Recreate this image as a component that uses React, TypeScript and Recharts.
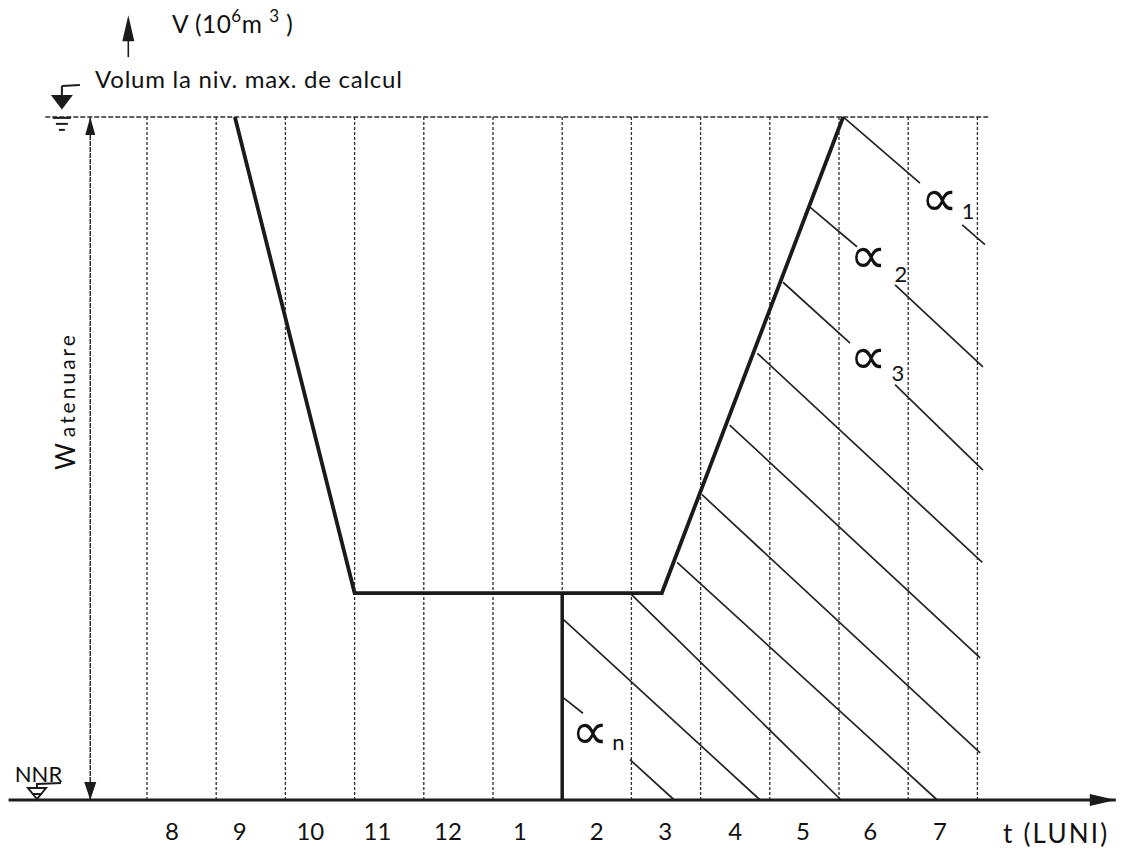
import {
  ComposedChart,
  Line,
  XAxis,
  YAxis,
  ReferenceLine,
  ReferenceDot,
} from "recharts";

// month boundaries (vertical guides) and the month names between them
const monthBounds = [0, 1, 2, 3, 4, 5, 6, 7, 8, 9, 10, 11, 12];
const monthNames = ["8", "9", "10", "11", "12", "1", "2", "3", "4", "5", "6", "7"];
const monthTickAt = [0.36, 1.34, 2.36, 3.33, 4.35, 5.39, 6.5, 7.49, 8.5, 9.48, 10.45, 11.46];

// reservoir volume (relative, 100 = volume at max. calculation level)
const volT = [1.27, 3.0, 7.44, 10.06];
const volV = [100, 30.3, 30.3, 100];
const volMax = 100;
const releaseStartT = 6.0;
const releaseStartV = 30.3;

// alpha (release) lines, split where the labels sit
const hatchT1 = [6.0, 6.98, 6.0, 6.98, 7.66, 8.02, 8.42, 8.82, 9.19, 10.81, 9.58, 10.81, 10.06, 11.78];
const hatchV1 = [15.1, 5.9, 26.6, 30.3, 34.8, 44.7, 54.9, 65.4, 75.8, 60.8, 86.8, 75.4, 100, 84.2];
const hatchT2 = [6.3, 7.62, 8.86, 10.03, 11.42, 12.04, 12.04, 12.07, 10.16, 12.08, 10.26, 12.08, 11.17, 12.11];
const hatchV2 = [12.7, 0, 0, 0, 0, 6.9, 20.8, 34.8, 66.9, 48.3, 81.0, 63.4, 90.3, 81.3];

const alphaNames = ["1", "2", "3", "n"];
const alphaT = [11.18, 10.15, 10.15, 6.13];
const alphaV = [87.9, 79.5, 64.7, 9.8];
const alphaSubDx = [41, 45, 42, 41];
const alphaSubDy = [19, 25, 23, 17];

const volData = volT.map((t, i) => ({ t, v: volV[i] }));

const ink = "#1b1b1b";
const font = "Lato, 'Open Sans', sans-serif";

export default function App() {
  return (
    <div
      style={{
        position: "absolute",
        left: 0,
        top: 0,
        width: 1128,
        height: 851,
        background: "#fff",
        fontFamily: font,
      }}
    >
      <ComposedChart
        width={1128}
        height={851}
        margin={{ top: 14.5, right: 12.2, left: 8.6, bottom: 0 }}
      >
        <XAxis
          type="number"
          dataKey="t"
          domain={[-2, 14]}
          ticks={monthTickAt}
          interval={0}
          allowDataOverflow
          tickFormatter={(v: number) => monthNames[monthTickAt.indexOf(v)]}
          height={51}
          tickLine={false}
          tickSize={0}
          tickMargin={23}
          axisLine={{ stroke: ink, strokeWidth: 3 }}
          tick={{ fill: "#111", fontSize: 24, fontFamily: font }}
        />
        <YAxis type="number" domain={[0, 115]} hide allowDataOverflow />

        {/* month guides */}
        {monthBounds.map((k) => (
          <ReferenceLine
            key={`g${k}`}
            segment={[
              { x: k, y: 0 },
              { x: k, y: volMax },
            ]}
            stroke="#2e2e2e"
            strokeWidth={1.3}
            strokeDasharray="3 2"
          />
        ))}
        {/* max calculation level */}
        <ReferenceLine
          segment={[
            { x: -1.47, y: volMax },
            { x: 12.18, y: volMax },
          ]}
          stroke="#2e2e2e"
          strokeWidth={1.4}
          strokeDasharray="5 2"
        />
        {/* W atenuare dimension */}
        <ReferenceLine
          segment={[
            { x: -0.82, y: 0 },
            { x: -0.82, y: volMax },
          ]}
          stroke="#2e2e2e"
          strokeWidth={1.5}
          strokeDasharray="5 1"
        />

        {hatchT1.map((t, i) => (
          <ReferenceLine
            key={`h${i}`}
            segment={[
              { x: t, y: hatchV1[i] },
              { x: hatchT2[i], y: hatchV2[i] },
            ]}
            stroke="#242424"
            strokeWidth={1.7}
          />
        ))}

        <ReferenceLine
          segment={[
            { x: releaseStartT, y: 0 },
            { x: releaseStartT, y: releaseStartV },
          ]}
          stroke={ink}
          strokeWidth={3.5}
        />

        <Line
          data={volData}
          dataKey="v"
          type="linear"
          dot={false}
          stroke={ink}
          strokeWidth={3.8}
          isAnimationActive={false}
        />

        {/* arrow heads */}
        <ReferenceDot
          x={-0.82}
          y={volMax}
          ifOverflow="visible"
          shape={(p: any) => (
            <path d={`M${p.cx},${p.cy} L${p.cx - 5},${p.cy + 18} L${p.cx + 5},${p.cy + 18} Z`} fill={ink} />
          )}
        />
        <ReferenceDot
          x={-0.82}
          y={0}
          ifOverflow="visible"
          shape={(p: any) => (
            <path d={`M${p.cx},${p.cy} L${p.cx - 6},${p.cy - 18} L${p.cx + 6},${p.cy - 18} Z`} fill={ink} />
          )}
        />
        <ReferenceDot
          x={14}
          y={0}
          ifOverflow="visible"
          shape={(p: any) => (
            <path d={`M${p.cx},${p.cy} L${p.cx - 26},${p.cy - 6} L${p.cx - 26},${p.cy + 6} Z`} fill={ink} />
          )}
        />
        {/* V axis arrow */}
        <ReferenceDot
          x={-0.27}
          y={114.9}
          ifOverflow="visible"
          shape={(p: any) => (
            <g>
              <path d={`M${p.cx},${p.cy} L${p.cx - 6},${p.cy + 26} L${p.cx + 6},${p.cy + 26} Z`} fill={ink} />
              <line x1={p.cx} y1={p.cy + 20} x2={p.cx} y2={p.cy + 42} stroke={ink} strokeWidth={1.6} />
            </g>
          )}
        />
        {/* max level symbol */}
        <ReferenceDot
          x={-1.23}
          y={102.5}
          ifOverflow="visible"
          shape={(p: any) => (
            <g stroke={ink} strokeWidth={2} fill="none">
              <path d={`M${p.cx},${p.cy - 14} L${p.cx + 18},${p.cy - 15}`} />
              <path d={`M${p.cx},${p.cy - 14} L${p.cx},${p.cy - 4}`} />
              <path d={`M${p.cx - 9},${p.cy - 4} L${p.cx + 9},${p.cy - 4} L${p.cx},${p.cy + 8} Z`} fill={ink} />
              <path d={`M${p.cx - 9},${p.cy + 18} L${p.cx + 9},${p.cy + 18}`} />
              <path d={`M${p.cx - 6},${p.cy + 24} L${p.cx + 6},${p.cy + 24}`} />
              <path d={`M${p.cx - 3},${p.cy + 30} L${p.cx + 3},${p.cy + 30}`} />
            </g>
          )}
        />
        {/* NNR symbol */}
        <ReferenceDot
          x={-1.59}
          y={1.46}
          ifOverflow="visible"
          shape={(p: any) => (
            <g stroke={ink} strokeWidth={2} fill="none">
              <path d={`M${p.cx},${p.cy - 2} L${p.cx},${p.cy - 6} L${p.cx + 24},${p.cy - 7}`} />
              <path d={`M${p.cx - 9},${p.cy - 2} L${p.cx + 9},${p.cy - 2} L${p.cx},${p.cy + 9} Z`} />
              <path d={`M${p.cx - 5},${p.cy + 4} L${p.cx + 5},${p.cy + 4}`} />
            </g>
          )}
        />

        {/* texts */}
        <ReferenceDot
          x={0.36}
          y={112.3}
          ifOverflow="visible"
          shape={(p: any) => (
            <text x={p.cx} y={p.cy} fontSize={24.5} letterSpacing={0.5} fill="#111" fontFamily={font}>
              V (10
              <tspan dy={-11} fontSize={17}>6</tspan>
              <tspan dy={11}>m </tspan>
              <tspan dy={-11} fontSize={17}>3</tspan>
              <tspan dy={11}> )</tspan>
            </text>
          )}
        />
        <ReferenceDot
          x={-0.75}
          y={104.2}
          ifOverflow="visible"
          shape={(p: any) => (
            <text x={p.cx} y={p.cy} fontSize={24} letterSpacing={0.75} fill="#111" fontFamily={font}>
              Volum la niv. max. de calcul
            </text>
          )}
        />
        <ReferenceDot
          x={-1.04}
          y={48.3}
          ifOverflow="visible"
          shape={(p: any) => (
            <text
              x={p.cx}
              y={p.cy}
              fill="#111"
              fontFamily={font}
              transform={`rotate(-90 ${p.cx} ${p.cy})`}
            >
              <tspan fontSize={26}>W</tspan>
              <tspan fontSize={21} dx={6} letterSpacing={3}>atenuare</tspan>
            </text>
          )}
        />
        <ReferenceDot
          x={-1.91}
          y={2.6}
          ifOverflow="visible"
          shape={(p: any) => (
            <text x={p.cx} y={p.cy} fontSize={22} fill="#111" fontFamily={font}>
              NNR
            </text>
          )}
        />
        <ReferenceDot
          x={12.37}
          y={-6.3}
          ifOverflow="visible"
          shape={(p: any) => (
            <text x={p.cx} y={p.cy} fontSize={26} letterSpacing={2.2} fill="#111" fontFamily={font}>
              t (LUNI)
            </text>
          )}
        />
        {alphaNames.map((n, i) => (
          <ReferenceDot
            key={`a${n}`}
            x={alphaT[i]}
            y={alphaV[i]}
            ifOverflow="visible"
            shape={(p: any) => (
              <text x={p.cx} y={p.cy + 16} fill="#111" fontFamily={font}>
                <tspan fontSize={52} fontFamily="'DejaVu Sans'">∝</tspan>
                <tspan x={p.cx + alphaSubDx[i]} y={p.cy + alphaSubDy[i]} fontSize={22}>
                  {n}
                </tspan>
              </text>
            )}
          />
        ))}
      </ComposedChart>
    </div>
  );
}
